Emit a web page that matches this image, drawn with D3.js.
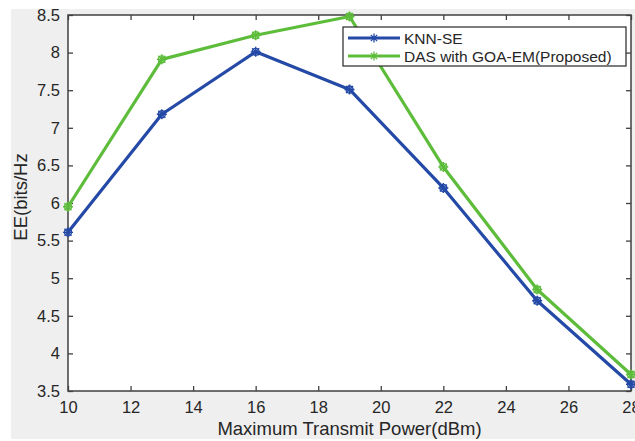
<!DOCTYPE html>
<html>
<head>
<meta charset="utf-8">
<script src="https://cdn.jsdelivr.net/npm/d3@7"></script>
<style>
  body { margin: 0; background: #fff; }
  svg text { font-family: "Liberation Sans", Arial, sans-serif; fill: #262626; }
</style>
</head>
<body>
<div class="chart"></div>
<script>
// chart values
var powers = [10, 13, 16, 19, 22, 25, 28];
var knnSE = [5.61, 7.18, 8.01, 7.51, 6.2, 4.7, 3.59];
var dasGOA = [5.95, 7.91, 8.23, 8.48, 6.48, 4.85, 3.72];
var xTicks = [10, 12, 14, 16, 18, 20, 22, 24, 26, 28];
var yTicks = [3.5, 4, 4.5, 5, 5.5, 6, 6.5, 7, 7.5, 8, 8.5];
var seriesNames = ["KNN-SE", "DAS with GOA-EM(Proposed)"];
var seriesColors = ["#2449a6", "#5dbd3b"];

var svgWidth = 635;
var svgHeight = 441;

var margin = { top: 15, right: 4, bottom: 50, left: 68 };
var width = svgWidth - margin.left - margin.right;
var height = svgHeight - margin.top - margin.bottom;

var svg = d3.select(".chart")
  .append("svg")
  .attr("width", svgWidth)
  .attr("height", svgHeight);

// grey figure background
svg.append("rect")
  .attr("x", 11).attr("y", 9)
  .attr("width", svgWidth - 11).attr("height", 430)
  .attr("fill", "#efefef");

var chartGroup = svg.append("g")
  .attr("transform", `translate(${margin.left}, ${margin.top})`);

chartGroup.append("rect")
  .attr("width", width).attr("height", height)
  .attr("fill", "#fff");

var xScale = d3.scaleLinear().domain([10, 28]).range([0, width]);
var yScale = d3.scaleLinear().domain([3.5, 8.5]).range([height, 0]);

function styleAxis(g) {
  g.select(".domain").remove();
  g.selectAll(".tick line").attr("stroke", "#404040").attr("stroke-width", 1.3);
  g.selectAll(".tick text").attr("font-size", 16.5).style("fill", "#262626");
}

// bottom and left axes, ticks inward
chartGroup.append("g")
  .attr("transform", `translate(0, ${height})`)
  .call(d3.axisBottom(xScale).tickValues(xTicks).tickSize(-5).tickPadding(10))
  .call(styleAxis);

chartGroup.append("g")
  .call(d3.axisLeft(yScale).tickValues(yTicks).tickFormat(d3.format("")).tickSize(-5).tickPadding(8))
  .call(styleAxis);

// mirrored ticks on top and right (no labels)
chartGroup.append("g")
  .call(d3.axisTop(xScale).tickValues(xTicks).tickSize(-5).tickFormat(""))
  .call(styleAxis);

chartGroup.append("g")
  .attr("transform", `translate(${width}, 0)`)
  .call(d3.axisRight(yScale).tickValues(yTicks).tickSize(-5).tickFormat(""))
  .call(styleAxis);

// box
chartGroup.append("rect")
  .attr("width", width).attr("height", height)
  .attr("fill", "none")
  .attr("stroke", "#404040")
  .attr("stroke-width", 1.5);

chartGroup.append("clipPath").attr("id", "plotclip")
  .append("rect").attr("x", -6).attr("y", -6)
  .attr("width", width + 12).attr("height", height + 12);

var line = d3.line()
  .x(function(d, i) { return xScale(powers[i]); })
  .y(function(d) { return yScale(d); });

function markerPath(r) {
  var a = r * 0.7;
  return `M${-r},0L${r},0M0,${-r}L0,${r}M${-a},${-a}L${a},${a}M${-a},${a}L${a},${-a}`;
}

var allSeries = [knnSE, dasGOA];

allSeries.forEach(function(values, s) {
  var g = chartGroup.append("g").attr("clip-path", "url(#plotclip)");
  g.append("path")
    .datum(values)
    .attr("d", line)
    .attr("fill", "none")
    .attr("stroke", seriesColors[s])
    .attr("stroke-width", 3.2)
    .attr("stroke-linejoin", "round");

  var marks = g.selectAll(".mark" + s)
    .data(values)
    .enter()
    .append("g")
    .attr("transform", function(d, i) { return `translate(${xScale(powers[i])}, ${yScale(d)})`; });

  marks.append("path")
    .attr("d", markerPath(5))
    .attr("stroke", seriesColors[s])
    .attr("stroke-width", 1.4)
    .attr("fill", "none");
  marks.append("circle")
    .attr("r", 3.5)
    .attr("fill", "none")
    .attr("stroke", seriesColors[s])
    .attr("stroke-width", 1.4);
});

// legend
var legend = svg.append("g").attr("transform", "translate(343, 27)");
legend.append("rect")
  .attr("width", 283).attr("height", 39)
  .attr("fill", "#fff")
  .attr("stroke", "#262626")
  .attr("stroke-width", 1.2);

seriesNames.forEach(function(name, s) {
  var yRow = 11 + s * 18;
  legend.append("line")
    .attr("x1", 5).attr("x2", 57)
    .attr("y1", yRow).attr("y2", yRow)
    .attr("stroke", seriesColors[s])
    .attr("stroke-width", 3.2);
  legend.append("path")
    .attr("transform", `translate(31, ${yRow})`)
    .attr("d", markerPath(4.5))
    .attr("stroke", seriesColors[s])
    .attr("stroke-width", 1.3)
    .attr("fill", "none");
  legend.append("text")
    .attr("x", 61)
    .attr("y", yRow + 5.5)
    .attr("font-size", 15.5)
    .text(name);
});

// axis labels
svg.append("text")
  .attr("transform", `translate(27, 197) rotate(-90)`)
  .attr("text-anchor", "middle")
  .attr("font-size", 18.5)
  .text("EE(bits/Hz");

svg.append("text")
  .attr("x", margin.left + width / 2)
  .attr("y", 435)
  .attr("text-anchor", "middle")
  .attr("font-size", 18.5)
  .text("Maximum Transmit Power(dBm)");
</script>
</body>
</html>
